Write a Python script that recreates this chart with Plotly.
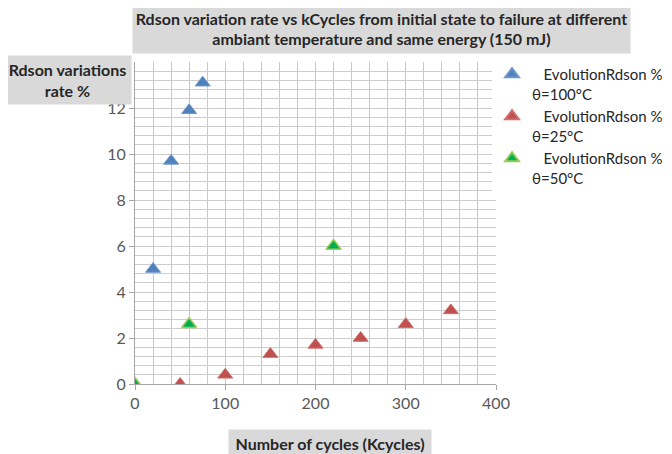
import plotly.graph_objects as go

# Data
x_100 = [20, 40, 60, 75]
y_100 = [5.0, 9.7, 11.9, 13.1]
x_25 = [50, 100, 150, 200, 250, 300, 350]
y_25 = [0.0, 0.4, 1.3, 1.7, 2.0, 2.6, 3.2]
x_50 = [0, 60, 220]
y_50 = [0.0, 2.6, 6.0]
names = ["\u00a0\u00a0\u00a0EvolutionRdson %<br>θ=100°C",
         "\u00a0\u00a0\u00a0EvolutionRdson %<br>θ=25°C",
         "\u00a0\u00a0\u00a0EvolutionRdson %<br>θ=50°C"]
x_ticks = [0, 100, 200, 300, 400]
y_ticks = [0, 2, 4, 6, 8, 10, 12]

FONT = "Lato, 'Open Sans', sans-serif"

fig = go.Figure()
fig.add_trace(go.Scatter(x=x_100, y=y_100, mode="markers", name=names[0],
                         marker=dict(symbol="triangle-up", size=13, color="#4F81BD",
                                     line=dict(color="#6E97CB", width=1))))
fig.add_trace(go.Scatter(x=x_25, y=y_25, mode="markers", name=names[1],
                         marker=dict(symbol="triangle-up", size=13, color="#C0504D",
                                     line=dict(color="#CF6E6B", width=1))))
fig.add_trace(go.Scatter(x=x_50, y=y_50, mode="markers", name=names[2],
                         marker=dict(symbol="triangle-up", size=13, color="#00B050",
                                     line=dict(color="#9BCB59", width=1.5))))

fig.update_layout(
    width=664, height=446,
    margin=dict(l=127, r=176, t=54, b=70, autoexpand=False),
    paper_bgcolor="white", plot_bgcolor="white",
    font=dict(family=FONT, size=14, color="#404040"),
    showlegend=True,
    legend=dict(x=0.989, y=1.0125, xanchor="left", yanchor="top",
                font=dict(size=15, color="#262626"), valign="top",
                tracegroupgap=0, itemsizing="constant"),
    xaxis=dict(range=[0, 400], tickvals=x_ticks, automargin=False,
               showgrid=False,
               minor=dict(dtick=20, showgrid=True, gridcolor="#C8C8C8", gridwidth=1),
               showline=True, linecolor="#A6A6A6", linewidth=1,
               ticks="outside", ticklen=5, tickcolor="#A6A6A6",
               tickfont=dict(size=16, color="#595959"), zeroline=False),
    yaxis=dict(range=[0, 14], tickvals=y_ticks, automargin=False,
               showgrid=False,
               minor=dict(dtick=0.4, showgrid=True, gridcolor="#CDCDCD", gridwidth=1),
               showline=True, linecolor="#A6A6A6", linewidth=1,
               ticks="outside", ticklen=5, tickcolor="#A6A6A6",
               tickfont=dict(size=16, color="#595959"), zeroline=False),
)

# Title boxes
fig.add_annotation(xref="paper", yref="paper", x=0.684, y=1.104,
                   xanchor="center", yanchor="middle",
                   text="<b>Rdson variation rate vs kCycles from initial state to failure at different<br>ambiant temperature and same energy (150 mJ)</b>",
                   showarrow=False, bgcolor="#D9D9D9", width=495, height=47,
                   font=dict(family=FONT, size=16, color="#262626"), align="center")
fig.add_annotation(xref="paper", yref="paper", x=-0.187, y=0.944,
                   xanchor="center", yanchor="middle",
                   text="<b>Rdson variations<br>rate %</b>",
                   showarrow=False, bgcolor="#D9D9D9", width=125, height=46,
                   font=dict(family=FONT, size=16, color="#262626"), align="center")
fig.add_annotation(xref="paper", yref="paper", x=0.54, y=-0.183,
                   xanchor="center", yanchor="middle",
                   text="<b>Number of cycles (Kcycles)</b>",
                   showarrow=False, bgcolor="#D9D9D9", width=200, height=24,
                   font=dict(family=FONT, size=16, color="#262626"), align="center")

fig.write_html("out.html")
